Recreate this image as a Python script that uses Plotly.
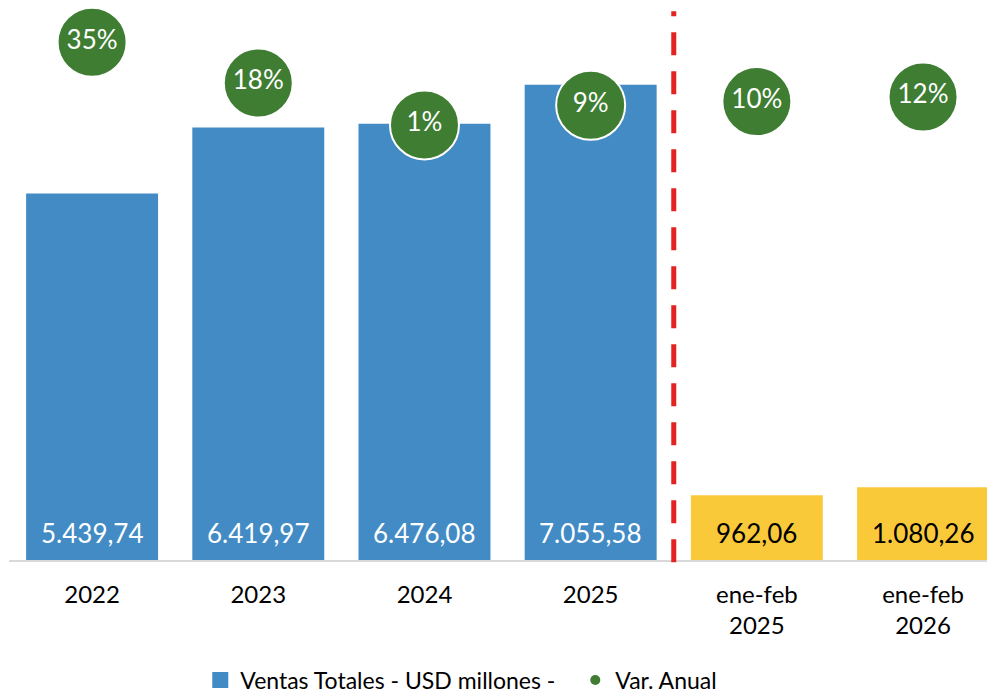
import plotly.graph_objects as go

# ---- data ----
categories = ["2022", "2023", "2024", "2025", "ene-feb<br>2025", "ene-feb<br>2026"]
ventas = [5439.74, 6419.97, 6476.08, 7055.58, 962.06, 1080.26]
var_anual = [34.6, 18.0, 0.9, 8.9, 10.4, 12.3]

# ---- styles ----
BLUE = "#428BC5"
YELLOW = "#FAC93A"
GREEN = "#3E7D32"
bar_colors = [BLUE] * 4 + [YELLOW] * 2
label_colors = ["white"] * 4 + ["black"] * 2
FONT = "Lato"


def es_format(v):
    s = f"{v:,.2f}"
    return s.replace(",", "X").replace(".", ",").replace("X", ".")


fig = go.Figure()

fig.add_trace(go.Bar(
    x=categories, y=ventas,
    name="Ventas Totales - USD millones -",
    marker=dict(color=bar_colors, line=dict(width=0)),
    showlegend=False,
))

fig.add_trace(go.Scatter(
    x=categories, y=var_anual, yaxis="y2",
    mode="markers+text",
    name="Var. Anual",
    marker=dict(color=GREEN, size=69, line=dict(color="white", width=2)),
    texttemplate="%{y:.0f}%",
    textposition="middle center",
    textfont=dict(family=FONT, size=26, color="white"),
    showlegend=False,
    cliponaxis=False,
))

# legend-only entries
fig.add_trace(go.Scatter(x=[None], y=[None], mode="markers", name="Ventas Totales - USD millones -",
                         marker=dict(color=BLUE, symbol="square", size=16), showlegend=True))
fig.add_trace(go.Scatter(x=[None], y=[None], yaxis="y2", mode="markers", name="Var. Anual",
                         marker=dict(color=GREEN, size=10), showlegend=True))

# value labels at the base of each bar (category index positions)
for i, (v, col) in enumerate(zip(ventas, label_colors)):
    fig.add_annotation(x=i, y=0, xref="x", yref="y", text=es_format(v),
                       showarrow=False, yanchor="middle", yshift=27,
                       font=dict(family=FONT, size=26, color=col))

# separator between annual and partial-year data
sep_x = (categories.index("2025") + categories.index("ene-feb<br>2025")) / 2
fig.add_shape(type="line", xref="x", yref="paper",
              x0=sep_x, x1=sep_x, y0=-0.004, y1=1.018,
              line=dict(color="#E32222", width=5, dash="23px,16px"), layer="above")

# page body adds an 8px offset; size the figure so the plot lands where the reference has it
fig.update_layout(
    width=987, height=685,
    margin=dict(l=1, r=0, t=13, b=133),
    plot_bgcolor="white", paper_bgcolor="white",
    bargap=0.206,
    font=dict(family=FONT, color="black"),
    xaxis=dict(
        type="category", range=[-0.5, 5.433],
        showgrid=False, zeroline=False,
        showline=True, linecolor="#D9D9D9", linewidth=2,
        ticks="", tickfont=dict(family=FONT, size=24, color="black"),
        ticklabelstandoff=12,
    ),
    yaxis=dict(range=[0, 8000], visible=False, showgrid=False, zeroline=False),
    yaxis2=dict(range=[-176.7, 43.3], overlaying="y", visible=False,
                showgrid=False, zeroline=False),
    legend=dict(orientation="h", xref="paper", yref="container",
                x=0.194, xanchor="left", y=0.019, yanchor="middle",
                entrywidth=330, entrywidthmode="pixels",
                font=dict(family=FONT, size=23, color="black"),
                traceorder="normal"),
)

fig.write_html("out.html")
